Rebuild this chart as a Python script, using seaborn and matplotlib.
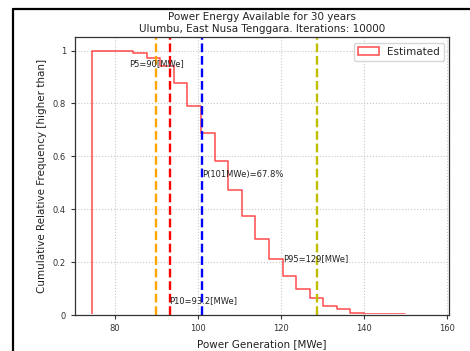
import numpy as np
import pandas as pd
import matplotlib
matplotlib.use("Agg")
import matplotlib.pyplot as plt
from matplotlib.lines import Line2D
from matplotlib.patches import Rectangle
from matplotlib.ticker import FuncFormatter
import seaborn as sns

# histogram bins (MWe) and cumulative relative frequency [higher than]
bin_start = 74.6
bin_end = 156.4
n_bins = 25
freq_higher = [1.0, 1.0, 1.0, 0.99, 0.97, 0.94, 0.877, 0.789, 0.69, 0.581,
               0.473, 0.374, 0.288, 0.211, 0.147, 0.098, 0.064, 0.037, 0.022,
               0.010, 0.006, 0.004, 0.004, 0.003, 0.003]

# percentile lines
line_values = [90.0, 93.2, 101.0, 128.6]
line_colors = ["orange", "red", "blue", "y"]

# annotations
note_texts = ["P5=90[MWe]", "P10=93.2[MWe]", "P(101MWe)=67.8%", "P95=129[MWe]"]
note_x = [83.4, 93.1, 101.1, 120.6]
note_y = [0.952, 0.055, 0.533, 0.215]

edges = np.linspace(bin_start, bin_end, n_bins + 1)
df = pd.DataFrame({"power": (edges[:-1] + edges[1:]) / 2, "freq": freq_higher})

sns.set_style("ticks", {"axes.grid": True, "grid.linestyle": ":",
                        "grid.color": "#c8c8c8", "axes.edgecolor": "#333333",
                        "xtick.color": "#333333", "ytick.color": "#333333"})

fig = plt.figure(figsize=(4.7, 3.51), dpi=100)
ax = fig.add_axes([0.1596, 0.1017, 0.956 - 0.1596, 0.8937 - 0.1017])

sns.histplot(data=df, x="power", weights="freq", bins=n_bins,
             binrange=(bin_start, bin_end), element="step",
             fill=True, color="red", facecolor="none", edgecolor=(1, 0, 0, 0.7),
             linewidth=1.1, label="Estimated", ax=ax)
# hide the baseline of the outline (hist step outline has no visible bottom)
ax.collections[0].set_clip_path(Rectangle((0, 0.003), 1, 1, transform=ax.transAxes))

for v, c in zip(line_values, line_colors):
    ax.axvline(v, color=c, linestyle="--", linewidth=1.7)

for t, x, y in zip(note_texts, note_x, note_y):
    ax.text(x, y, t, fontsize=6, va="center", ha="left", color="#222222")

ax.set_xlim(70.4, 160.6)
ax.set_ylim(0, 1.05)
ax.set_xticks([80, 100, 120, 140, 160])
ax.set_yticks([0, 0.2, 0.4, 0.6, 0.8, 1.0])
ax.yaxis.set_major_formatter(FuncFormatter(lambda v, p: f"{v:g}"))
ax.tick_params(labelsize=6, length=3, width=0.8)
ax.grid(True, linestyle=":", color="#c8c8c8", linewidth=0.8)
for s in ax.spines.values():
    s.set_linewidth(0.9)

ax.set_title("Power Energy Available for 30 years\nUlumbu, East Nusa Tenggara. Iterations: 10000",
             fontsize=7.5, pad=4, color="#222222")
ax.set_xlabel("Power Generation [MWe]", fontsize=7.5, color="#222222")
ax.set_ylabel("Cumulative Relative Frequency [higher than]", fontsize=7.5, color="#222222")
ax.legend(loc="upper right", fontsize=7.5)

# screenshot frame
fig.add_artist(Line2D([13 / 470, 13 / 470], [0, 1 - 9 / 351], transform=fig.transFigure,
                      color="black", linewidth=1.6))
fig.add_artist(Line2D([13 / 470, 1], [1 - 9 / 351, 1 - 9 / 351], transform=fig.transFigure,
                      color="black", linewidth=1.6))

fig.savefig("out.png", dpi=100)
